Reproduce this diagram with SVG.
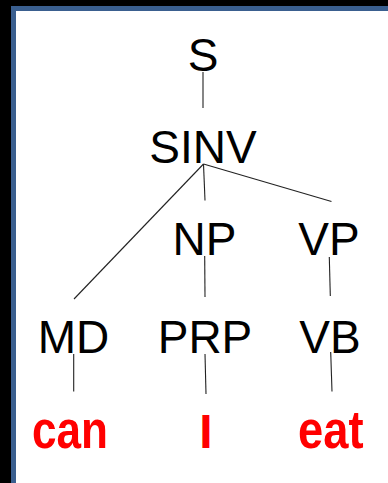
<svg xmlns="http://www.w3.org/2000/svg" width="388" height="483" viewBox="0 0 388 483">
  <style>
    .lbl { font-family: "Liberation Sans", Arial, sans-serif; font-size: 46px; fill: #000; text-anchor: middle; }
    .word { font-family: "Liberation Sans", Arial, sans-serif; font-size: 48px; font-weight: bold; fill: #ff0000; }
    .edge { stroke: #222; stroke-width: 1.1; fill: none; }
  </style>
  <!-- frame -->
  <rect x="0" y="0" width="388" height="483" fill="#000"/>
  <rect x="11" y="6" width="377" height="477" fill="#3a5f8f"/>
  <rect x="16" y="11" width="372" height="472" fill="#fff"/>

  <g id="connectors">
    <line class="edge" x1="203" y1="72" x2="203" y2="108"/>
    <line class="edge" x1="203.5" y1="164" x2="74" y2="299"/>
    <line class="edge" x1="203.5" y1="164" x2="205" y2="200.5"/>
    <line class="edge" x1="203.5" y1="164" x2="331.5" y2="201.5"/>
    <line class="edge" x1="204.7" y1="256" x2="205" y2="297"/>
    <line class="edge" x1="329.3" y1="257" x2="330.3" y2="296"/>
    <line class="edge" x1="73.7" y1="354" x2="73.7" y2="391.5"/>
    <line class="edge" x1="205" y1="354" x2="206" y2="394"/>
    <line class="edge" x1="330.7" y1="352" x2="332" y2="391.5"/>
  </g>

  <g id="node-S"><text class="lbl" x="203" y="71">S</text></g>
  <g id="node-SINV"><text class="lbl" x="203" y="163">SINV</text></g>
  <g id="node-NP"><text class="lbl" x="204.5" y="255">NP</text></g>
  <g id="node-VP"><text class="lbl" x="329" y="255">VP</text></g>
  <g id="node-MD"><text class="lbl" x="73.5" y="353">MD</text></g>
  <g id="node-PRP"><text class="lbl" x="205" y="353">PRP</text></g>
  <g id="node-VB"><text class="lbl" x="330" y="353">VB</text></g>
  <!-- leaf words, stretched slightly upward from their baseline -->
  <g id="word-can" transform="matrix(1 0 0 1.1 0 -44.77)"><text class="word" x="32" y="447.7" textLength="76" lengthAdjust="spacingAndGlyphs">can</text></g>
  <g id="word-I"><text class="word" x="206" y="447.7" text-anchor="middle">I</text></g>
  <g id="word-eat" transform="matrix(1 0 0 1.1 0 -44.77)"><text class="word" x="298" y="447.7" textLength="65.5" lengthAdjust="spacingAndGlyphs">eat</text></g>
</svg>
